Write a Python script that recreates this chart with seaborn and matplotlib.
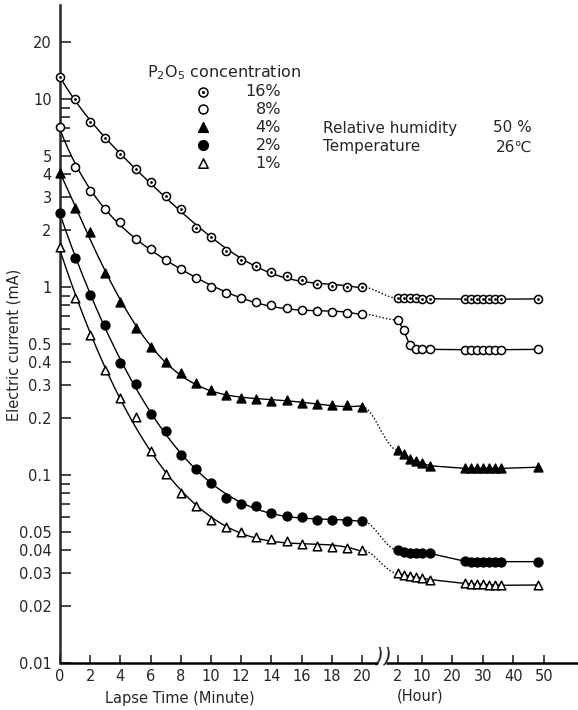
import numpy as np
import pandas as pd
import matplotlib
matplotlib.use("Agg")
import matplotlib.pyplot as plt
import seaborn as sns

# ---------------- data ----------------
minutes = list(range(21))
cur_16 = [13.1, 9.94, 7.55, 6.20, 5.07, 4.23, 3.63, 3.06, 2.60, 2.05, 1.85,
          1.56, 1.39, 1.30, 1.20, 1.14, 1.09, 1.04, 1.01, 1.00, 1.00]
cur_8 = [7.07, 4.36, 3.25, 2.59, 2.23, 1.80, 1.59, 1.39, 1.24, 1.11, 1.00,
         0.933, 0.874, 0.832, 0.799, 0.776, 0.757, 0.745, 0.733, 0.725, 0.718]
cur_4 = [4.03, 2.62, 1.95, 1.19, 0.835, 0.607, 0.481, 0.400, 0.348, 0.307, 0.283,
         0.266, 0.258, 0.253, 0.248, 0.250, 0.242, 0.239, 0.235, 0.235, 0.231]
cur_2 = [2.48, 1.42, 0.907, 0.628, 0.396, 0.303, 0.210, 0.172, 0.127, 0.108, 0.0910,
         0.0759, 0.0701, 0.0684, 0.0630, 0.0607, 0.0596, 0.0576, 0.0576, 0.0571, 0.0571]
cur_1 = [1.64, 0.871, 0.555, 0.362, 0.256, 0.204, 0.134, 0.101, 0.0799, 0.0684, 0.0576,
         0.0531, 0.0496, 0.0470, 0.0455, 0.0446, 0.0431, 0.0421, 0.0416, 0.0407, 0.0399]

hours = [2, 4, 6, 8, 10, 12.5, 24, 26, 28, 30, 32, 34, 36, 48]
hcur_16 = [0.874, 0.872, 0.870, 0.870, 0.868, 0.866, 0.862, 0.862, 0.862, 0.862, 0.862, 0.862, 0.862, 0.864]
hcur_8 = [0.668, 0.591, 0.491, 0.466, 0.466, 0.466, 0.464, 0.464, 0.464, 0.464, 0.464, 0.464, 0.464, 0.466]
hcur_4 = [0.136, 0.129, 0.121, 0.119, 0.116, 0.112, 0.1085, 0.1085, 0.1085, 0.1085, 0.1085, 0.1085, 0.1085, 0.110]
hcur_2 = [0.0399, 0.0390, 0.0387, 0.0385, 0.0385, 0.0383, 0.0348, 0.0346, 0.0346, 0.0345, 0.0345, 0.0345, 0.0346, 0.0346]
hcur_1 = [0.0300, 0.0294, 0.0290, 0.0286, 0.0283, 0.0278, 0.0265, 0.0263, 0.0263, 0.0262, 0.0261, 0.0260, 0.0259, 0.0260]

concentrations = ["16%", "8%", "4%", "2%", "1%"]

ytick_vals = [20, 10, 5, 4, 3, 2, 1, 0.5, 0.4, 0.3, 0.2, 0.1, 0.05, 0.04, 0.03, 0.02, 0.01]
ytick_labels = ["20", "10", "5", "4", "3", "2", "1", "0.5", "0.4", "0.3", "0.2", "0.1",
                "0.05", "0.04", "0.03", "0.02", "0.01"]
yminor_vals = [9, 8, 7, 6, 0.9, 0.8, 0.7, 0.6, 0.09, 0.08, 0.07, 0.06]
minute_ticks = [0, 2, 4, 6, 8, 10, 12, 14, 16, 18, 20]
hour_ticks = [2, 10, 20, 30, 40, 50]

# ---------------- layout ----------------
W, H = 578, 710
L_PX, B_PX, T_PX = 60, 663, 5
PX_PER_MIN = 15.1
HOUR0, HSCALE = 21.95, 0.202


def hpos(h):
    return HOUR0 + HSCALE * np.asarray(h, dtype=float)


sns.set_style("ticks")
plt.rcParams['font.family'] = ['DejaVu Sans']
fig = plt.figure(figsize=(W / 100, H / 100), dpi=100)
ax = fig.add_axes([L_PX / W, (H - B_PX) / H, (W - L_PX) / W, (B_PX - T_PX) / H])
ax.set_yscale('log')
ax.set_ylim(0.01, 10 ** ((B_PX - T_PX) / 188 - 2))
ax.set_xlim(0, (W - L_PX) / PX_PER_MIN)

styles = {
    "16%": dict(marker='o', fc='white', s=34, dot=True),
    "8%": dict(marker='o', fc='white', s=34, dot=False),
    "4%": dict(marker='^', fc='black', s=40, dot=False),
    "2%": dict(marker='o', fc='black', s=40, dot=False),
    "1%": dict(marker='^', fc='white', s=38, dot=False),
}
mins_all = {"16%": cur_16, "8%": cur_8, "4%": cur_4, "2%": cur_2, "1%": cur_1}
hrs_all = {"16%": hcur_16, "8%": hcur_8, "4%": hcur_4, "2%": hcur_2, "1%": hcur_1}

for c in concentrations:
    mv = np.array(mins_all[c])
    hv = np.array(hrs_all[c])
    st = styles[c]
    # smooth fitted curve over minutes
    coef = np.polyfit(minutes, np.log10(mv), 5)
    xs = np.linspace(0, 20, 300)
    ys = 10 ** np.polyval(coef, xs)
    sns.lineplot(x=xs, y=ys, ax=ax, color='black', lw=1.0, sort=False, estimator=None)
    # dotted connector
    t = np.linspace(0, 1, 80)
    x0, x1 = 20, float(hpos(hours[0]))
    ly0, ly1 = np.log10(mv[-1]), np.log10(hv[0])
    sns.lineplot(x=x0 + t * (x1 - x0), y=10 ** (ly0 + (3 * t ** 2 - 2 * t ** 3) * (ly1 - ly0)),
                 ax=ax, color='black', lw=1.0, linestyle=(0, (1, 1.5)), sort=False, estimator=None)
    # hour segment
    sns.lineplot(x=hpos(hours), y=hv, ax=ax, color='black', lw=1.0, sort=False, estimator=None)
    # markers
    df = pd.DataFrame({"x": np.concatenate([minutes, hpos(hours)]),
                       "y": np.concatenate([mv, hv])})
    sns.scatterplot(data=df, x="x", y="y", ax=ax, marker=st['marker'], s=st['s'],
                    facecolor=st['fc'], edgecolor='black', linewidth=1.1, zorder=5,
                    clip_on=False)
    if st['dot']:
        sns.scatterplot(data=df, x="x", y="y", ax=ax, marker='o', s=4,
                        color='black', linewidth=0, zorder=6, clip_on=False)

# ---------------- axes styling ----------------
for sp in ['top', 'right', 'bottom']:
    ax.spines[sp].set_visible(False)
ax.spines['left'].set_linewidth(1.8)
ax.set_xlabel("")
ax.set_ylabel("")

ax.set_yticks(ytick_vals)
ax.set_yticklabels(ytick_labels)
ax.set_yticks(yminor_vals, minor=True)
ax.yaxis.set_minor_formatter(matplotlib.ticker.NullFormatter())
ax.tick_params(axis='y', which='major', direction='in', length=8, width=1.2,
               labelsize=10.5, pad=6)
ax.tick_params(axis='y', which='minor', direction='in', length=7, width=1.2)

xt = list(minute_ticks) + list(hpos(hour_ticks))
xl = [str(v) for v in minute_ticks] + [str(v) for v in hour_ticks]
ax.set_xticks(xt)
ax.set_xticklabels(xl)
ax.xaxis.set_minor_locator(matplotlib.ticker.NullLocator())
ax.tick_params(axis='x', which='major', direction='in', length=6, width=1.2,
               labelsize=10.5, pad=4)

# broken bottom axis line
brk1, brk2 = 21.05, 21.6
ax.plot([0, brk1], [0.01, 0.01], color='black', lw=1.8, clip_on=False, zorder=4,
        solid_capstyle='butt')
ax.plot([brk2, ax.get_xlim()[1]], [0.01, 0.01], color='black', lw=1.8, clip_on=False,
        zorder=4, solid_capstyle='butt')
for bx in (brk1, brk2):
    ax.text(bx, 0.0107, ")", fontsize=15, ha='center', va='center', rotation=-12)

# ---------------- texts ----------------
def fx(x):
    return x / W


def fy(y):
    return 1 - y / H


fig.text(fx(14), fy(345), "Electric current (mA)", rotation=90, ha='center', va='center',
         fontsize=10.5)
fig.text(fx(180), fy(699), "Lapse Time (Minute)", ha='center', va='center', fontsize=10.5)
fig.text(fx(420), fy(696), "(Hour)", ha='center', va='center', fontsize=10.5)

fig.text(fx(147), fy(73), "P$_2$O$_5$ concentration", ha='left', va='center', fontsize=11.5)
leg_y = [92, 109, 127, 145, 163]
for c, yy in zip(concentrations, leg_y):
    st = styles[c]
    ax.scatter([fx(203)], [fy(yy)], transform=fig.transFigure, marker=st['marker'],
               s=st['s'] + 8, facecolor=st['fc'], edgecolor='black', linewidth=1.1,
               clip_on=False, zorder=6)
    if st['dot']:
        ax.scatter([fx(203)], [fy(yy)], transform=fig.transFigure, marker='o', s=5,
                   color='black', linewidth=0, clip_on=False, zorder=7)
    fig.text(fx(281), fy(yy), c, ha='right', va='center', fontsize=11.5)

fig.text(fx(323), fy(128), "Relative humidity", ha='left', va='center', fontsize=11)
fig.text(fx(323), fy(147), "Temperature", ha='left', va='center', fontsize=11)
fig.text(fx(532), fy(128), "50 %", ha='right', va='center', fontsize=11)
fig.text(fx(532), fy(147), "26℃", ha='right', va='center', fontsize=11)

fig.savefig("out.png", dpi=100)
